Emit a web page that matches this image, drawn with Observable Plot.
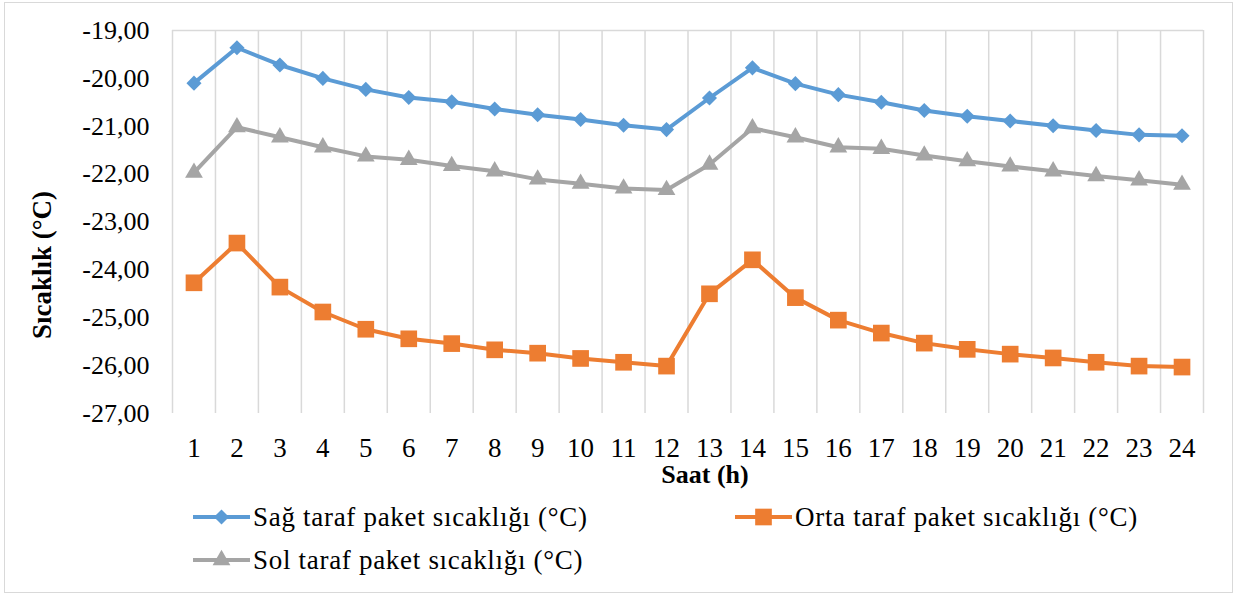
<!DOCTYPE html>
<html>
<head>
<meta charset="utf-8">
<script src="https://cdn.jsdelivr.net/npm/d3@7"></script>
<script src="https://cdn.jsdelivr.net/npm/@observablehq/plot@0.6"></script>
</head>
<body style="margin:0;background:#fff">
<div id="wrap" style="position:relative;width:1240px;height:597px;overflow:hidden;font-family:'Liberation Serif'">
  <div style="position:absolute;left:4px;top:2px;width:1229px;height:591px;border:1.5px solid #d9d9d9;box-sizing:border-box"></div>
  <div id="chart" style="position:absolute;left:0;top:0"></div>
  <div id="legend"></div>
</div>
<script>
const hours = [1,2,3,4,5,6,7,8,9,10,11,12,13,14,15,16,17,18,19,20,21,22,23,24];
const sag  = [-20.10,-19.36,-19.72,-20.00,-20.23,-20.40,-20.49,-20.64,-20.76,-20.86,-20.98,-21.07,-20.41,-19.78,-20.11,-20.34,-20.50,-20.67,-20.79,-20.89,-20.99,-21.09,-21.18,-21.20];
const orta = [-24.27,-23.44,-24.36,-24.88,-25.24,-25.44,-25.54,-25.67,-25.74,-25.85,-25.93,-26.01,-24.50,-23.79,-24.58,-25.05,-25.32,-25.53,-25.66,-25.76,-25.84,-25.93,-26.01,-26.03];
const sol  = [-21.97,-21.02,-21.23,-21.44,-21.63,-21.70,-21.83,-21.94,-22.11,-22.20,-22.30,-22.33,-21.80,-21.04,-21.23,-21.44,-21.47,-21.61,-21.73,-21.84,-21.94,-22.04,-22.13,-22.22];
const yTicks = [-27,-26,-25,-24,-23,-22,-21,-20,-19];
const seriesNames = ["Sağ taraf paket sıcaklığı (°C)", "Orta taraf paket sıcaklığı (°C)", "Sol taraf paket sıcaklığı (°C)"];
const seriesColors = ["#5B9BD5", "#ED7D31", "#A5A5A5"];
const seriesSymbols = ["diamond2", "square", "triangle"];
const seriesR = [6.8, 9.4, 6.6];
const xTitle = "Saat (h)";
const yTitle = "Sıcaklık (°C)";

const seriesValues = [sag, orta, sol];
const rows = seriesValues.map((vals, i) => hours.map((h, j) => ({hour: h, value: vals[j], series: seriesNames[i]})));
const boundaries = [hours[0] - 0.5, ...hours.map(h => h + 0.5)];
const fmt = d => d.toFixed(2).replace(".", ",");

const marks = [
  Plot.ruleX(boundaries, {stroke: "#d9d9d9", strokeWidth: 1.5}),
  Plot.ruleY([yTicks[yTicks.length - 1]], {stroke: "#d9d9d9", strokeWidth: 1.5})
];
rows.forEach((data, i) => {
  marks.push(Plot.line(data, {x: "hour", y: "value", stroke: seriesColors[i], strokeWidth: 4, strokeLinejoin: "round"}));
  marks.push(Plot.dot(data, {x: "hour", y: "value", symbol: () => seriesSymbols[i], fill: seriesColors[i], stroke: "none", r: seriesR[i]}));
});
marks.push(Plot.axisX({ticks: hours, tickFormat: d => String(d), tickSize: 0, tickPadding: 24, fontSize: 27, label: null}));
marks.push(Plot.axisY({ticks: yTicks, tickFormat: fmt, tickSize: 0, tickPadding: 23, fontSize: 26, label: null}));
marks.push(Plot.text([xTitle], {frameAnchor: "bottom", textAnchor: "middle", dx: 17, dy: 61, lineAnchor: "middle", fontWeight: "bold", fontSize: 26}));
marks.push(Plot.text([yTitle], {frameAnchor: "left", textAnchor: "middle", dx: -130, dy: 43, rotate: -90, lineAnchor: "middle", fontWeight: "bold", fontSize: 27}));

const chart = Plot.plot({
  width: 1240,
  height: 500,
  marginLeft: 172,
  marginRight: 37,
  marginTop: 30,
  marginBottom: 87,
  style: {fontFamily: "'Liberation Serif'", fontSize: "25px", color: "#000", background: "transparent"},
  x: {type: "linear", domain: [boundaries[0], boundaries[boundaries.length - 1]]},
  y: {domain: [yTicks[0], yTicks[yTicks.length - 1]]},
  symbol: {type: "identity"},
  marks
});
chart.setAttribute("font-family", "Liberation Serif");
chart.querySelectorAll("[font-family]").forEach(el => el.setAttribute("font-family", "Liberation Serif"));
document.getElementById("chart").appendChild(chart);

const legendPos = [[193, 517], [735, 517], [193, 560]];
const legend = document.getElementById("legend");
seriesNames.forEach((name, i) => {
  const div = document.createElement("div");
  div.setAttribute("style", `position:absolute;left:${legendPos[i][0]}px;top:${legendPos[i][1] - 15}px;height:30px;display:flex;align-items:center;white-space:nowrap;font-family:'Liberation Serif';font-size:27px;letter-spacing:0.7px;color:#000;line-height:1`);
  const sym = d3.symbol(d3["symbol" + {diamond2: "Diamond2", square: "Square", triangle: "Triangle"}[seriesSymbols[i]]], Math.PI * seriesR[i] * seriesR[i])();
  div.innerHTML = `<svg width="57" height="30" style="display:block;margin-right:3px"><line x1="0" x2="57" y1="15" y2="15" stroke="${seriesColors[i]}" stroke-width="4"/><path transform="translate(28.5,15)" d="${sym}" fill="${seriesColors[i]}"/></svg><span>${name}</span>`;
  legend.appendChild(div);
});
</script>
</body>
</html>
